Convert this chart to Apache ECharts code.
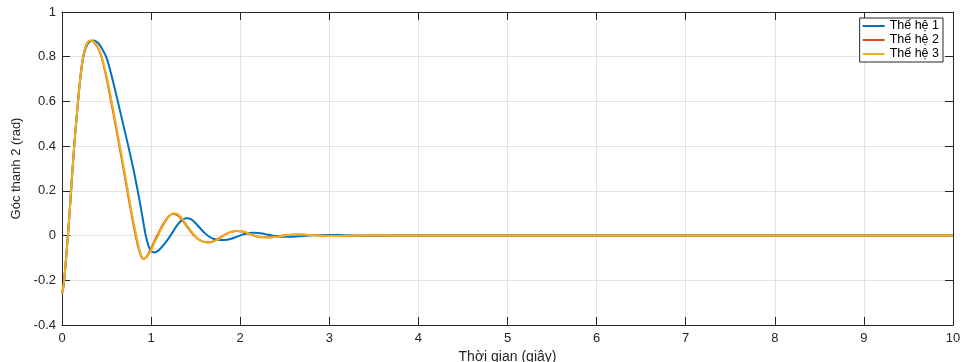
<!DOCTYPE html>
<html>
<head>
<meta charset="utf-8">
<script src="https://cdn.jsdelivr.net/npm/echarts@6/dist/echarts.min.js"></script>
<style>
  html, body { margin: 0; padding: 0; background: #fff; }
  #chart { width: 964px; height: 362px; }
</style>
</head>
<body>
<div id="chart"></div>
<script>
// generation 1 (blue)
const time1 = [0, 0.015, 0.03, 0.05, 0.07, 0.09, 0.11, 0.135, 0.16, 0.18, 0.2, 0.225, 0.25, 0.275, 0.3, 0.33, 0.355, 0.38, 0.41, 0.45, 0.5, 0.55, 0.6, 0.65, 0.7, 0.75, 0.8, 0.85, 0.9, 0.94, 0.97, 1.0, 1.034, 1.07, 1.1, 1.15, 1.2, 1.25, 1.3, 1.35, 1.4, 1.45, 1.5, 1.55, 1.6, 1.65, 1.7, 1.75, 1.8, 1.85, 1.9, 1.95, 2.0, 2.05, 2.1, 2.15, 2.2, 2.25, 2.3, 2.35, 2.4, 2.5, 2.6, 2.7, 2.8, 2.9, 3.0, 3.1, 3.25, 3.45, 3.7, 4, 5, 6, 7, 8, 9, 10];
const gen1 = [-0.258, -0.232, -0.175, -0.08, 0.02, 0.13, 0.25, 0.39, 0.51, 0.6, 0.683, 0.765, 0.818, 0.848, 0.863, 0.871, 0.872, 0.869, 0.86, 0.836, 0.795, 0.725, 0.645, 0.56, 0.475, 0.39, 0.3, 0.2, 0.09, 0.0, -0.045, -0.068, -0.076, -0.07, -0.06, -0.037, -0.01, 0.02, 0.05, 0.07, 0.077, 0.072, 0.055, 0.033, 0.012, -0.004, -0.014, -0.019, -0.02, -0.019, -0.014, -0.007, 0.001, 0.007, 0.011, 0.013, 0.012, 0.009, 0.005, 0.001, -0.002, -0.005, -0.005, -0.002, 0.001, 0.003, 0.003, 0.002, 0, -0.001, 0, 0, 0, 0, 0, 0, 0, 0];

// generations 2 and 3 (red, yellow) share the time samples
const time23 = [0, 0.015, 0.03, 0.05, 0.07, 0.09, 0.11, 0.135, 0.16, 0.18, 0.2, 0.225, 0.25, 0.275, 0.3, 0.325, 0.35, 0.38, 0.41, 0.446, 0.5, 0.55, 0.6, 0.65, 0.7, 0.75, 0.8, 0.85, 0.885, 0.914, 0.95, 1.0, 1.05, 1.08, 1.1, 1.15, 1.2, 1.25, 1.3, 1.35, 1.4, 1.45, 1.5, 1.55, 1.6, 1.655, 1.7, 1.75, 1.8, 1.85, 1.9, 1.96, 2.02, 2.08, 2.14, 2.2, 2.26, 2.32, 2.4, 2.5, 2.58, 2.66, 2.75, 2.85, 2.95, 3.05, 3.2, 3.4, 4, 5, 6, 7, 8, 9, 10];
const gen2 = [-0.258, -0.232, -0.175, -0.08, 0.02, 0.13, 0.25, 0.39, 0.51, 0.6, 0.685, 0.77, 0.825, 0.855, 0.869, 0.871, 0.867, 0.855, 0.834, 0.795, 0.705, 0.602, 0.497, 0.387, 0.277, 0.162, 0.053, -0.042, -0.09, -0.105, -0.094, -0.058, -0.014, 0.008, 0.025, 0.06, 0.087, 0.098, 0.09, 0.07, 0.042, 0.016, -0.007, -0.022, -0.029, -0.03, -0.025, -0.015, -0.003, 0.009, 0.017, 0.021, 0.018, 0.011, 0.002, -0.005, -0.008, -0.008, -0.005, 0.001, 0.004, 0.005, 0.003, 0.001, -0.001, -0.002, -0.001, 0, 0, 0, 0, 0, 0, 0, 0];
const gen3 = [-0.258, -0.232, -0.175, -0.08, 0.02, 0.13, 0.25, 0.39, 0.51, 0.6, 0.685, 0.77, 0.825, 0.855, 0.869, 0.872, 0.869, 0.858, 0.838, 0.8, 0.715, 0.615, 0.51, 0.4, 0.29, 0.175, 0.065, -0.03, -0.085, -0.105, -0.097, -0.066, -0.022, 0.0, 0.018, 0.055, 0.085, 0.1, 0.095, 0.075, 0.047, 0.02, -0.004, -0.021, -0.03, -0.032, -0.027, -0.017, -0.005, 0.008, 0.017, 0.022, 0.019, 0.012, 0.003, -0.004, -0.008, -0.009, -0.006, 0, 0.004, 0.005, 0.004, 0.001, -0.001, -0.002, -0.001, 0, 0, 0, 0, 0, 0, 0, 0];

const seriesNames = ['Thế hệ 1', 'Thế hệ 2', 'Thế hệ 3'];
const seriesColors = ['#0072BD', '#D95319', '#EDB120'];
const xRange = [0, 10, 1];
const yRange = [-0.4, 1, 0.2];

const font = '"Liberation Sans", Arial, sans-serif';
const axisColor = '#262626';

function pairs(t, v) {
  return t.map((x, i) => [x, v[i]]);
}

const chart = echarts.init(document.getElementById('chart'));

const baseX = {
  type: 'value',
  min: xRange[0],
  max: xRange[1],
  interval: xRange[2],
  axisLine: { show: true, onZero: false, lineStyle: { color: axisColor, width: 1 } },
  axisTick: { show: true, inside: true, length: 8, lineStyle: { color: axisColor } },
};
const baseY = {
  type: 'value',
  min: yRange[0],
  max: yRange[1],
  interval: yRange[2],
  axisLine: { show: true, onZero: false, lineStyle: { color: axisColor, width: 1 } },
  axisTick: { show: true, inside: true, length: 8, lineStyle: { color: axisColor } },
};

chart.setOption({
  animation: false,
  backgroundColor: '#fff',
  textStyle: { fontFamily: font },
  grid: { left: 62, right: 11, top: 12, bottom: 37, outerBoundsMode: 'none' },
  legend: {
    data: seriesNames,
    orient: 'vertical',
    right: 21,
    top: 18,
    icon: 'rect',
    backgroundColor: '#fff',
    borderColor: axisColor,
    borderWidth: 1,
    borderRadius: 0,
    padding: [1, 4, 1, 3],
    itemWidth: 22,
    itemHeight: 2,
    itemGap: 0,
    textStyle: { color: '#000', fontSize: 12.5, lineHeight: 14, fontFamily: font },
  },
  xAxis: [
    {
      ...baseX,
      position: 'bottom',
      name: 'Thời gian (giây)',
      nameLocation: 'middle',
      nameGap: 21,
      nameTextStyle: { color: axisColor, fontSize: 14, fontFamily: font },
      axisLabel: { color: axisColor, fontSize: 13, margin: 7, fontFamily: font },
      splitLine: { show: true, lineStyle: { color: '#e3e3e3', width: 1 } },
    },
    {
      ...baseX,
      position: 'top',
      axisLabel: { show: false },
      splitLine: { show: false },
    },
  ],
  yAxis: [
    {
      ...baseY,
      position: 'left',
      name: 'Góc thanh 2 (rad)',
      nameLocation: 'middle',
      nameGap: 38,
      nameTextStyle: { color: axisColor, fontSize: 13, fontFamily: font },
      axisLabel: { color: axisColor, fontSize: 13, margin: 6, fontFamily: font },
      splitLine: { show: true, lineStyle: { color: '#e3e3e3', width: 1 } },
    },
    {
      ...baseY,
      position: 'right',
      axisLabel: { show: false },
      splitLine: { show: false },
    },
  ],
  series: [
    { name: seriesNames[0], data: pairs(time1, gen1) },
    { name: seriesNames[1], data: pairs(time23, gen2) },
    { name: seriesNames[2], data: pairs(time23, gen3) },
  ].map((s, i) => ({
    ...s,
    type: 'line',
    xAxisIndex: 0,
    yAxisIndex: 0,
    symbol: 'none',
    smooth: 0.35,
    lineStyle: { color: seriesColors[i], width: 2 },
    itemStyle: { color: seriesColors[i] },
  })),
});
</script>
</body>
</html>
